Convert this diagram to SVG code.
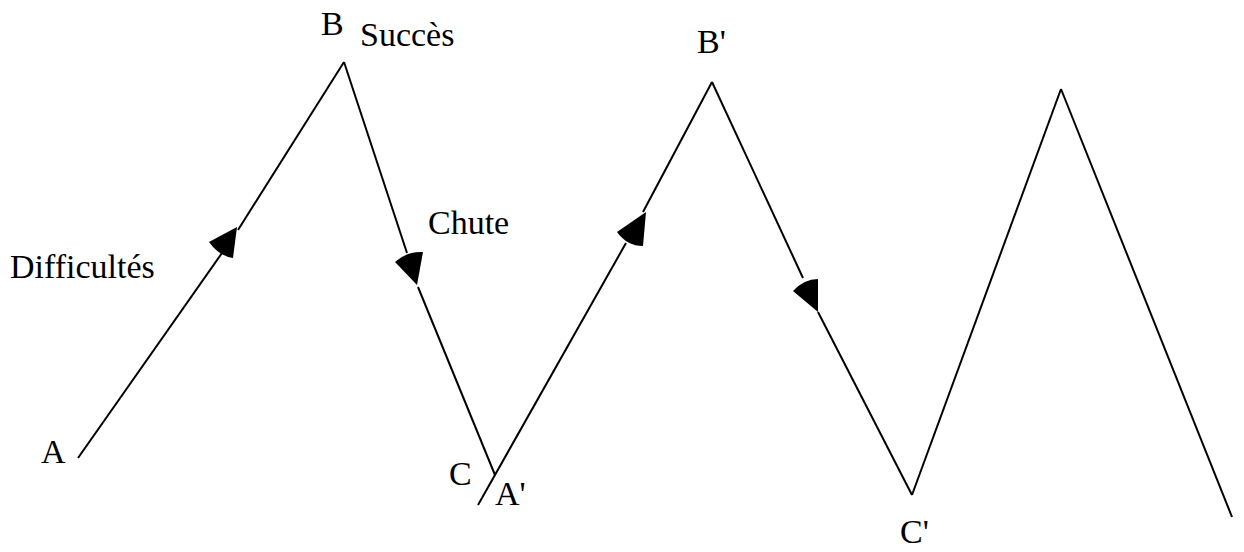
<svg xmlns="http://www.w3.org/2000/svg" width="1244" height="552" viewBox="0 0 1244 552">
<style>
.ln{stroke:#000;stroke-width:2;fill:none;stroke-linecap:butt}
.ah{fill:#000;stroke:none}
.t{font-family:"Liberation Serif","Times New Roman",serif;font-size:34px;fill:#000}
</style>
<rect width="1244" height="552" fill="#fff"/>
<g id="connectors">
<path class="ln" d="M78,458 L222,253"/>
<path class="ln" d="M238,230 L344,62"/>
<path class="ln" d="M344,62 L407,253"/>
<path class="ln" d="M418,287 L495,475"/>
<path class="ln" d="M478,505 L626,243"/>
<path class="ln" d="M643,212 L712,82"/>
<path class="ln" d="M712,82 L803,278"/>
<path class="ln" d="M818,312 L912,495"/>
<path class="ln" d="M912,495 L1061,89"/>
<path class="ln" d="M1061,89 L1232,517"/>
<path class="ah" d="M237,227 L209,242 Q219,256 233,258 Z"/>
<path class="ah" d="M417,285 L395,262 Q407,251 423,252 Z"/>
<path class="ah" d="M646,212 L617,232 Q627,246 643,246 Z"/>
<path class="ah" d="M818,312 L793,291 Q804,279 818,279 Z"/>
</g>
<g id="node-A"><text class="t" x="41" y="463">A</text></g>
<g id="node-B"><text class="t" x="321" y="35">B</text></g>
<g id="label-succes"><text class="t" x="360" y="46">Succès</text></g>
<g id="label-chute"><text class="t" x="428" y="234">Chute</text></g>
<g id="label-difficultes"><text class="t" x="10" y="278">Difficultés</text></g>
<g id="node-C"><text class="t" x="449" y="485">C</text></g>
<g id="node-A2"><text class="t" x="495" y="505">A'</text></g>
<g id="node-B2"><text class="t" x="697" y="53">B'</text></g>
<g id="node-C2"><text class="t" x="900" y="543">C'</text></g>
</svg>
